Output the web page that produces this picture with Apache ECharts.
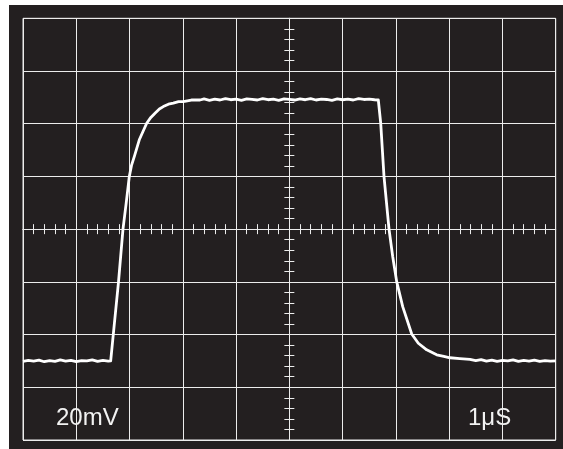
<!DOCTYPE html>
<html>
<head>
<meta charset="utf-8">
<script src="https://cdn.jsdelivr.net/npm/echarts@6/dist/echarts.min.js"></script>
<style>
  html, body { margin: 0; padding: 0; background: #ffffff; }
  #screen { position: absolute; left: 9px; top: 5px; width: 554px; height: 444px; background: #231f20; }
  #chart { width: 554px; height: 444px; }
</style>
</head>
<body>
<div id="screen"><div id="chart"></div></div>
<script>
// Time relative to screen centre, microseconds (1 µs / div)
const timeUs = [
  -5.0, -4.9, -4.8, -4.7, -4.6, -4.5, -4.4, -4.3, -4.2, -4.1, -4.0, -3.9, -3.8, -3.7, -3.6, -3.5, -3.4, -3.354,
  -3.305, -3.207, -3.123, -3.063, -3.005, -2.963, -2.911, -2.817, -2.678, -2.60, -2.522, -2.44, -2.366, -2.27, -2.179, -2.08, -1.991, -1.84, -1.677,
  -1.6, -1.5, -1.4, -1.3, -1.2, -1.1, -1.0, -0.9, -0.8, -0.7, -0.6, -0.5, -0.4, -0.3, -0.2, -0.1, 0.0,
  0.1, 0.2, 0.3, 0.4, 0.5, 0.6, 0.7, 0.8, 0.9, 1.0, 1.1, 1.2, 1.3, 1.4, 1.5, 1.6, 1.670,
  1.715, 1.777, 1.871, 1.94, 2.015, 2.128, 2.297, 2.421, 2.578, 2.766, 2.90, 3.016, 3.20, 3.391,
  3.5, 3.6, 3.7, 3.8, 3.9, 4.0, 4.1, 4.2, 4.3, 4.4, 4.5, 4.6, 4.7, 4.8, 4.9, 5.0
];
// Trace amplitude, millivolts (20 mV / div)
const signalMv = [
  -50.2, -49.8, -50.1, -49.7, -50.3, -49.9, -50.2, -49.6, -50.1, -49.8, -50.3, -49.9, -50.0, -49.6, -50.2, -49.8, -50.1, -50.0,
  -39.9, -20.0, 0.0, 9.9, 19.9, 24.2, 27.5, 33.9, 40.2, 42.4, 44.0, 45.6, 46.5, 47.4, 47.8, 48.4, 48.4, 49.0, 49.0,
  49.4, 48.9, 49.3, 49.0, 49.5, 49.1, 49.3, 48.9, 49.4, 49.2, 49.0, 49.5, 49.1, 49.3, 48.9, 49.4, 49.2,
  49.0, 49.4, 49.1, 49.5, 49.0, 49.3, 49.2, 48.9, 49.4, 49.1, 49.3, 49.0, 49.5, 49.2, 49.3, 49.1, 49.0,
  40.2, 19.9, 0.0, -10.4, -19.9, -29.4, -39.8, -43.3, -45.8, -47.7, -48.3, -48.8, -49.1, -49.4,
  -49.9, -49.5, -50.1, -49.7, -50.2, -49.8, -50.0, -49.6, -50.2, -49.8, -50.1, -49.7, -50.2, -49.9, -50.1, -50.0
];
const xRange = [-5, 5];
const yRange = [-80, 80];
const voltsLabel = '20mV';
const timeLabel = '1\u03bcS';

const chart = echarts.init(document.getElementById('chart'), null, { renderer: 'canvas' });
const line = '#ececec';
const tickCommon = { show: true, length: 5, lineStyle: { color: line, width: 1 } };
function xAx(inside, grid) {
  return {
    type: 'value', min: xRange[0], max: xRange[1], interval: 1, position: 'bottom',
    axisLine: { show: true, onZero: true, lineStyle: { color: line, width: 1 } },
    axisTick: Object.assign({ inside: inside }, tickCommon),
    minorTick: Object.assign({ splitNumber: 5 }, tickCommon),
    axisLabel: { show: false },
    splitLine: { show: grid, lineStyle: { color: line, width: 1 } },
    minorSplitLine: { show: false }
  };
}
function yAx(inside, grid) {
  return {
    type: 'value', min: yRange[0], max: yRange[1], interval: 20, position: 'left',
    axisLine: { show: true, onZero: true, lineStyle: { color: line, width: 1 } },
    axisTick: Object.assign({ inside: inside }, tickCommon),
    minorTick: Object.assign({ splitNumber: 5 }, tickCommon),
    axisLabel: { show: false },
    splitLine: { show: grid, lineStyle: { color: line, width: 1 } },
    minorSplitLine: { show: false }
  };
}
const pts = timeUs.map((t, i) => [t, signalMv[i]]);
chart.setOption({
  backgroundColor: 'transparent',
  animation: false,
  grid: { left: 14, top: 13.3, right: 7.3, bottom: 9, show: true, borderColor: line, borderWidth: 1, backgroundColor: 'transparent' },
  xAxis: [xAx(true, true), xAx(false, false)],
  yAxis: [yAx(true, true), yAx(false, false)],
  series: [{
    type: 'line', xAxisIndex: 0, yAxisIndex: 0, data: pts, showSymbol: false, symbol: 'none',
    lineStyle: { color: '#ffffff', width: 2.8, join: 'round' }, z: 10
  }],
  graphic: [
    { type: 'text', left: 47, top: 401, style: { text: voltsLabel, fill: '#f2f2f2', font: '24px "Liberation Sans", Arial, sans-serif' } },
    { type: 'text', left: 459, top: 401, style: { text: timeLabel, fill: '#f2f2f2', font: '24px "Liberation Sans", Arial, sans-serif' } }
  ]
});
</script>
</body>
</html>
